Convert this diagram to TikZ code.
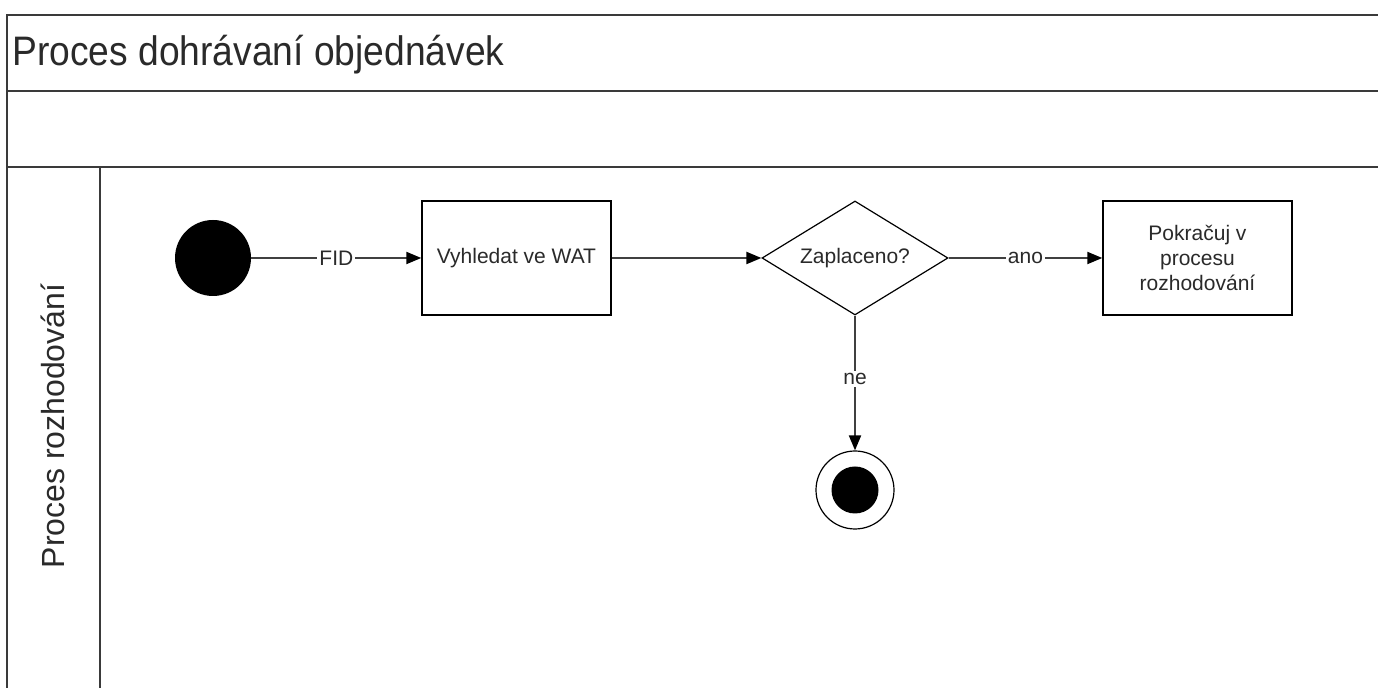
\documentclass[tikz,border=0pt]{standalone}
\usepackage{fontspec}
\setmainfont{Liberation Sans}
\usetikzlibrary{arrows.meta,shapes.geometric}
\definecolor{frame}{HTML}{3A3A3A}
\definecolor{conn}{HTML}{404040}
\definecolor{txt}{HTML}{2A2A2A}
\begin{document}
\begin{tikzpicture}[x=0.5pt,y=-0.5pt,
  framestyle/.style={draw=frame,line width=1.1pt},
  actbox/.style={draw=black,line width=0.7pt,fill=white,minimum width=94.5pt,minimum height=57pt,inner sep=0pt,align=center,font=\fontsize{10.5pt}{12.5pt}\selectfont,text=txt},
  decbox/.style={diamond,draw=black,line width=0.6pt,fill=white,minimum width=93pt,minimum height=57pt,aspect=1.63,inner sep=0pt,font=\fontsize{10.5pt}{12.5pt}\selectfont,text=txt},
  conn/.style={draw=conn,line width=1pt,-{Triangle[length=7.5pt,width=6pt,color=black]}},
  lbl/.style={fill=white,inner sep=1pt,font=\fontsize{10.5pt}{12.5pt}\selectfont,text=txt}]
\useasboundingbox (0,0) rectangle (1378,688);
\fill[white] (0,0) rectangle (1378,688);
% frame
\draw[framestyle] (1378,15) -- (7,15) -- (7,688);
\draw[framestyle] (7,91) -- (1378,91);
\draw[framestyle] (7,167) -- (1378,167);
\draw[framestyle] (100,167) -- (100,688);
\node[anchor=base west,inner sep=0pt,font=\fontsize{20pt}{24pt}\selectfont,text=txt] (title) at (12,66) {\scalebox{0.93}[1.03]{Proces dohrávaní objednávek}};
\node[rotate=90,inner sep=0pt,font=\fontsize{16pt}{19pt}\selectfont,text=txt] (lane) at (53,426) {Proces rozhodování};
% nodes
\node[circle,fill=black,minimum size=38pt,inner sep=0pt] (start) at (213,258) {};
\node[actbox] (find) at (516.5,258) {Vyhledat ve WAT};
\node[decbox] (dec) at (855,258) {Zaplaceno?};
\node[actbox] (cont) at (1197.5,258) {Pokračuj v\\procesu\\rozhodování};
\node[circle,draw=black,line width=0.6pt,minimum size=39pt,inner sep=0pt] (end) at (855,490) {};
\node[circle,fill=black,minimum size=23.5pt,inner sep=0pt] (endcore) at (end.center) {};
% connectors
\draw[conn] (start) -- node[lbl,pos=0.5] {FID} (find);
\draw[conn] (find) -- (dec);
\draw[conn] (dec) -- node[lbl,pos=0.5] {ano} (cont);
\draw[conn] (dec) -- node[lbl,pos=0.47] {ne} (end);
\end{tikzpicture}
\end{document}
